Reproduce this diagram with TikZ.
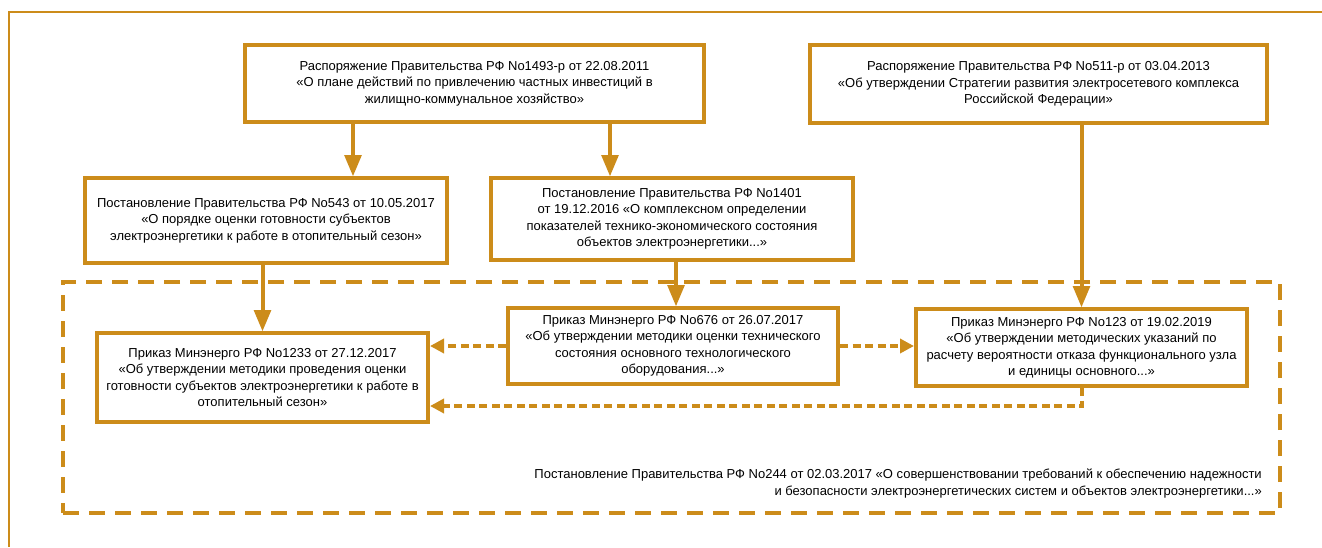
\documentclass[tikz,border=0pt]{standalone}
\usepackage{fontspec}
\setmainfont{Liberation Sans}
\usetikzlibrary{shapes}
\usetikzlibrary{arrows}
\usetikzlibrary{arrows.meta}
\definecolor{gold}{RGB}{204,140,26}
\tikzset{
	docnode/.style = {align=center, inner sep=0pt, text centered,
		font=\fontsize{13}{16.5}\selectfont},
	doc_b/.style = {docnode, rectangle, draw=gold, line width=4pt},% document, cadre plein
	doc_a/.style = {draw=gold, line width=4pt, -triangle 45},% lien plein
	doc_d/.style = {draw=gold, line width=4pt, dash pattern=on 8pt off 4.5pt,
		-{Triangle[length=14pt,width=14pt]}},% lien pointille
	doc_g/.style = {draw=gold, line width=3.5pt, dash pattern=on 16pt off 10pt}% groupe pointille
}
\begin{document}
\begin{tikzpicture}[x=1pt,y=-1pt]
		\useasboundingbox (0,0) rectangle (1322,547);
		\draw[gold, line width=2pt] (1322,12) -- (9,12) -- (9,547);
		\node [doc_g, minimum width=1217pt, minimum height=231pt] (grp) at (671.5,397.5) {};
		\node [doc_b, minimum width=459pt, minimum height=77pt] (r1493) at (474.5,83.5)
		{Распоряжение Правительства РФ No1493-р от 22.08.2011\\«О плане действий по привлечению частных инвестиций в\\жилищно-коммунальное хозяйство»};
		\node [doc_b, minimum width=457pt, minimum height=78pt] (r511) at (1038.5,84)
		{Распоряжение Правительства РФ No511-р от 03.04.2013\\«Об утверждении Стратегии развития электросетевого комплекса\\Российской Федерации»};
		\node [doc_b, minimum width=362pt, minimum height=85pt] (p543) at (266,220.5)
		{Постановление Правительства РФ No543 от 10.05.2017\\«О порядке оценки готовности субъектов\\электроэнергетики к работе в отопительный сезон»};
		\node [doc_b, minimum width=362pt, minimum height=82pt] (p1401) at (672,219)
		{Постановление Правительства РФ No1401\\от 19.12.2016 «О комплексном определении\\показателей технико-экономического состояния\\объектов электроэнергетики...»};
		\node [doc_b, minimum width=331pt, minimum height=89pt] (m1233) at (262.5,377.5)
		{Приказ Минэнерго РФ No1233 от 27.12.2017\\«Об утверждении методики проведения оценки\\готовности субъектов электроэнергетики к работе в\\отопительный сезон»};
		\node [doc_b, minimum width=330pt, minimum height=76pt] (m676) at (673,346)
		{Приказ Минэнерго РФ No676 от 26.07.2017\\«Об утверждении методики оценки технического\\состояния основного технологического\\оборудования...»};
		\node [doc_b, minimum width=331pt, minimum height=77pt] (m123) at (1081.5,347.5)
		{Приказ Минэнерго РФ No123 от 19.02.2019\\«Об утверждении методических указаний по\\расчету вероятности отказа функционального узла\\и единицы основного...»};
		\node [docnode, anchor=east, align=right] (p244) at (1262,483.5)
		{Постановление Правительства РФ No244 от 02.03.2017 «О совершенствовании требований к обеспечению надежности\\и безопасности электроэнергетических систем и объектов электроэнергетики...»};
		% liens
		\coordinate (x1) at (353,0);
		\coordinate (x2) at (610,0);
		\coordinate (x3) at (676,0);
		\coordinate (y3) at (0,406);
		\draw [doc_a] (r1493.south -| x1) -- (p543.north -| x1);
		\draw [doc_a] (r1493.south -| x2) -- (p1401.north -| x2);
		\draw [doc_a] (p543.south -| m1233) -- (m1233.north);
		\draw [doc_a] (p1401.south -| x3) -- (m676.north -| x3);
		\draw [doc_a] (r511.south -| m123) -- (m123.north);
		\draw [doc_d] (m676.west) -- (m676.west -| m1233.east);
		\draw [doc_d] (m676.east) -- (m676.east -| m123.west);
		\draw [doc_d] (m123.south) |- (y3 -| m1233.east);
\end{tikzpicture}
\end{document}
